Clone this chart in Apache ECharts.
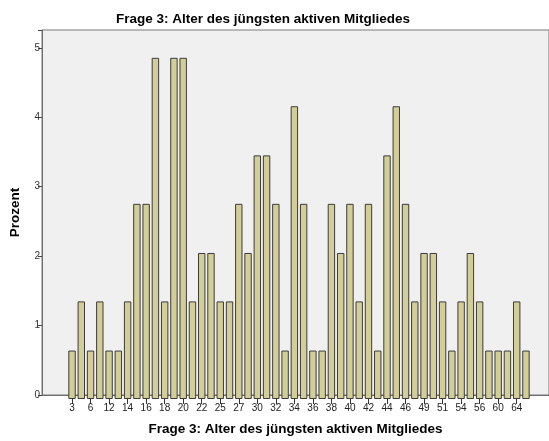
<!DOCTYPE html>
<html>
<head>
<meta charset="utf-8">
<script src="https://cdn.jsdelivr.net/npm/echarts@6/dist/echarts.min.js"></script>
<style>
  html, body { margin: 0; padding: 0; background: #fff; }
  #chart { width: 549px; height: 441px; }
</style>
</head>
<body>
<div id="chart"></div>
<script>
  // Alter des jüngsten Mitglieds (nur jede zweite Kategorie beschriftet)
  var ages = ['3', '4', '6', '8', '12', '13', '14', '15', '16', '17',
              '18', '19', '20', '21', '22', '23', '25', '26', '27', '28',
              '30', '31', '32', '33', '34', '35', '36', '37', '38', '39',
              '40', '41', '42', '43', '44', '45', '46', '47', '49', '50',
              '51', '52', '54', '55', '56', '58', '60', '62', '64', '65'];
  // Prozent
  var percent = [0.69, 1.39, 0.69, 1.39, 0.69, 0.69, 1.39, 2.78, 2.78, 4.86,
                 1.39, 4.86, 4.86, 1.39, 2.08, 2.08, 1.39, 1.39, 2.78, 2.08,
                 3.47, 3.47, 2.78, 0.69, 4.17, 2.78, 0.69, 0.69, 2.78, 2.08,
                 2.78, 1.39, 2.78, 0.69, 3.47, 4.17, 2.78, 1.39, 2.08, 2.08,
                 1.39, 0.69, 1.39, 2.08, 1.39, 0.69, 0.69, 0.69, 1.39, 0.69];
  var yTicks = [0, 1, 2, 3, 4, 5];

  var titleText = 'Frage 3: Alter des jüngsten aktiven Mitgliedes';
  var yMax = 5.256;
  var font = 'Liberation Sans';

  var myChart = echarts.init(document.getElementById('chart'));
  myChart.setOption({
    animation: false,
    title: {
      text: titleText,
      left: 111,
      top: 7,
      textStyle: { fontFamily: font, fontSize: 13.5, fontWeight: 'bold', color: '#000' }
    },
    // grid 0 = Rahmen mit Hintergrund, grid 1 = Balkenbereich (eingerückt)
    grid: [
      { left: 42, right: 0, top: 30, bottom: 42, show: true,
        backgroundColor: '#f0f0f0', borderColor: '#7a7a7a', borderWidth: 1 },
      { left: 67.4, right: 18.4, top: 30, bottom: 42 }
    ],
    xAxis: [
      {
        gridIndex: 0, type: 'value', min: 0, max: 1,
        name: titleText, nameLocation: 'middle', nameGap: 27,
        nameTextStyle: { fontFamily: font, fontSize: 13.5, fontWeight: 'bold', color: '#000' },
        axisLine: { show: true, lineStyle: { color: '#6e6e6e', width: 1 } },
        axisTick: { show: false },
        axisLabel: { show: false },
        splitLine: { show: false }
      },
      {
        gridIndex: 1, type: 'category', data: ages,
        axisLine: { show: false },
        axisTick: { show: true, interval: 1, alignWithLabel: true, length: 5,
                    lineStyle: { color: '#333' } },
        axisLabel: { interval: 1, fontFamily: font, fontSize: 10, color: '#222', margin: 4 }
      }
    ],
    yAxis: [
      {
        gridIndex: 0, type: 'value', min: 0, max: yMax, interval: 1,
        name: 'Prozent', nameLocation: 'middle', nameGap: 20,
        nameTextStyle: { fontFamily: font, fontSize: 13.5, fontWeight: 'bold', color: '#000' },
        axisLine: { show: true, lineStyle: { color: '#6e6e6e', width: 1 } },
        axisTick: { show: true, length: 4, lineStyle: { color: '#444' } },
        axisLabel: {
          fontFamily: font, fontSize: 10, color: '#333', margin: 2,
          formatter: function (v) { return yTicks.indexOf(v) >= 0 ? String(v) : ''; }
        },
        splitLine: { show: false }
      },
      { gridIndex: 1, type: 'value', min: 0, max: yMax, show: false, splitLine: { show: false } }
    ],
    series: [
      {
        type: 'bar',
        xAxisIndex: 1,
        yAxisIndex: 1,
        data: percent,
        barWidth: '80%',
        itemStyle: { color: '#d3cd97', borderColor: '#3c3c3c', borderWidth: 1 }
      }
    ]
  });
</script>
</body>
</html>
